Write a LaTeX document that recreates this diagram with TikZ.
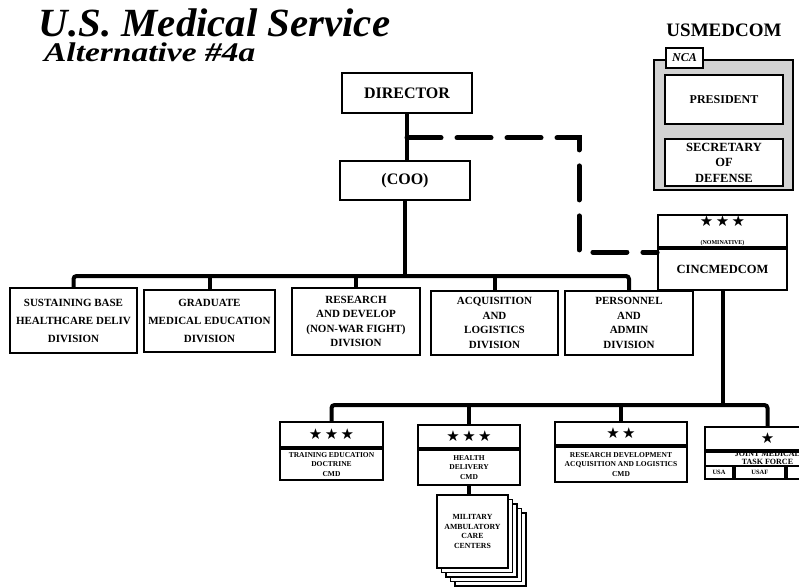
\documentclass[tikz,border=0pt]{standalone}
\usepackage{fontspec}
\setmainfont{Liberation Serif}
\newfontfamily\starfont{DejaVu Sans}
\usetikzlibrary{calc}

\begin{document}
\begin{tikzpicture}[x=1pt,y=-1pt,line width=1.8pt]
    \clip (0,0) rectangle (799,586);

    \tikzstyle{box}=[draw,fill=white,inner sep=1pt,align=center,
    font=\fontsize{16}{17}\selectfont\bfseries]
    \tikzstyle{division}=[box,minimum width=128,minimum height=64,
    font=\fontsize{11}{14.5}\selectfont\bfseries]
    \tikzstyle{cmdhead}=[box,minimum height=23,font=\starfont\fontsize{15}{15}\selectfont]
    \tikzstyle{cmdbody}=[box,anchor=north,minimum height=35,
    font=\fontsize{7.5}{9.5}\selectfont\bfseries]
    \tikzstyle{page}=[box,minimum width=71,minimum height=73,
    font=\fontsize{7.8}{9.5}\selectfont\bfseries]
    \tikzstyle{cell}=[box,minimum height=13,anchor=south west,
    font=\fontsize{6.5}{7}\selectfont\bfseries]
    \tikzstyle{bar}=[line width=4pt,rounded corners=3pt]
    \tikzstyle{dashline}=[line width=5pt,line cap=round,dash pattern=on 34pt off 16pt]

    %% Title
    \node [anchor=base west,inner sep=0,font=\fontsize{40}{41}\selectfont\bfseries\itshape,xscale=1.02]
        (title) at (38,37) {U.S. Medical Service};
    \node [anchor=base west,inner sep=0,font=\fontsize{27}{28}\selectfont\bfseries\itshape,xscale=1.24]
        (subtitle) at (43,61) {Alternative \#4a};

    %% NCA block on the right
    \node [inner sep=0,font=\fontsize{19}{20}\selectfont\bfseries] (usmedcom) at (724,30) {USMEDCOM};
    \node [draw,line width=2.2pt,fill=gray!35,minimum width=139,minimum height=130] (nca) at (723.5,125) {};
    \node [box,minimum width=37,minimum height=20,font=\fontsize{12}{12}\selectfont\bfseries\itshape]
        (ncatab) at (684.5,58) {NCA};
    \node [box,minimum width=118,minimum height=49,font=\fontsize{12}{16}\selectfont\bfseries]
        (pres) at (724,99.5) {PRESIDENT};
    \node [box,minimum width=118,minimum height=47,font=\fontsize{12.5}{15.5}\selectfont\bfseries]
        (secdef) at (724,162.5) {SECRETARY\\OF\\DEFENSE};

    %% Director and COO
    \node [box,minimum width=130,minimum height=40] (dir) at (407,93) {DIRECTOR};
    \node [box,minimum width=130,minimum height=39] (coo) at (405,180.5) {(COO)};

    %% CINCMEDCOM
    \node [box,minimum width=129,minimum height=32] (cinchead) at (722.5,231)
        {{\starfont\fontsize{15}{15}\selectfont ★\,★\,★}\\[1pt]{\fontsize{6}{7}\selectfont (NOMINATIVE)}};
    \node [box,anchor=north,minimum width=129,minimum height=41,font=\fontsize{12.5}{14}\selectfont\bfseries]
        (cinc) at (cinchead.south) {CINCMEDCOM};

    %% Divisions under the COO
    \node [division,minimum width=127,minimum height=65,font=\fontsize{11}{18}\selectfont\bfseries]
        (d1) at (73.5,320.5) {SUSTAINING BASE\\HEALTHCARE DELIV\\DIVISION};
    \node [division,minimum width=131,minimum height=62,font=\fontsize{11}{18}\selectfont\bfseries]
        (d2) at (209.5,321) {GRADUATE\\MEDICAL EDUCATION\\DIVISION};
    \node [division,minimum height=67] (d3) at (356,321.5) {RESEARCH\\AND DEVELOP\\(NON-WAR FIGHT)\\DIVISION};
    \node [division,minimum width=127] (d4) at (494.5,323) {ACQUISITION\\AND\\LOGISTICS\\DIVISION};
    \node [division] (d5) at (629,323) {PERSONNEL\\AND\\ADMIN\\DIVISION};

    %% Commands under CINCMEDCOM
    \node [cmdhead,minimum width=103,minimum height=25] (tedhead) at (331.5,434.5) {★\,★\,★};
    \node [cmdbody,minimum width=103,minimum height=31] (ted) at (tedhead.south)
        {TRAINING EDUCATION\\DOCTRINE\\CMD};
    \node [cmdhead,minimum width=102] (hdhead) at (469,436.5) {★\,★\,★};
    \node [cmdbody,minimum width=102] (hd) at (hdhead.south) {HEALTH\\DELIVERY\\CMD};
    \node [cmdhead,minimum width=132] (rdahead) at (621,433.5) {★\,★};
    \node [cmdbody,minimum width=132] (rda) at (rdahead.south)
        {RESEARCH DEVELOPMENT\\ACQUISITION AND LOGISTICS\\CMD};
    \node [cmdhead,minimum width=125] (jmtfhead) at (767.5,438.5) {★};
    \node [cmdbody,minimum width=125,minimum height=27] (jmtf) at (jmtfhead.south) {};
    \node [inner sep=0,align=center,font=\fontsize{8}{7.5}\selectfont\bfseries]
        (jmtftext) at ($(jmtf.north)+(0,7)$) {JOINT MEDICAL\\TASK FORCE};
    \node [cell,minimum width=28] (usa) at (jmtf.south west) {USA};
    \node [cell,minimum width=50] (usaf) at (usa.south east) {USAF};
    \node [cell,minimum width=47] (usn) at (usaf.south east) {USN};

    %% Stack of care centers under health delivery
    \foreach \k in {4,3,2,1}
        \node [page] at (472.5+4.5*\k,531.5+4.5*\k) {};
    \node [page] (macc) at (472.5,531.5) {MILITARY\\AMBULATORY\\CARE\\CENTERS};

    %% Connectors
    \coordinate (tap) at ($(dir.south)+(0,24)$);
    \coordinate (bend) at (579,252);
    \coordinate (bus1) at (405,276);
    \coordinate (bus2) at (718,405);

    \draw [bar] (dir.south) -- (dir.south |- coo.north);
    \draw [dashline] (tap) -| (bend) -- (bend -| cinc.west);
    \draw [bar] (coo.south) -- (coo.south |- bus1);
    \draw [bar] (d1.north) |- (d5.north |- bus1) -- (d5.north);
    \foreach \d in {d2,d3,d4}
        \draw [bar] (\d.north) -- (\d.north |- bus1);

    \draw [bar] (cinc.south) -- (cinc.south |- bus2);
    \draw [bar] (tedhead.north) |- (jmtfhead.north |- bus2) -- (jmtfhead.north);
    \foreach \c in {hdhead,rdahead}
        \draw [bar] (\c.north) -- (\c.north |- bus2);
    \draw [bar] (hd.south) -- (hd.south |- macc.north);
\end{tikzpicture}
\end{document}
